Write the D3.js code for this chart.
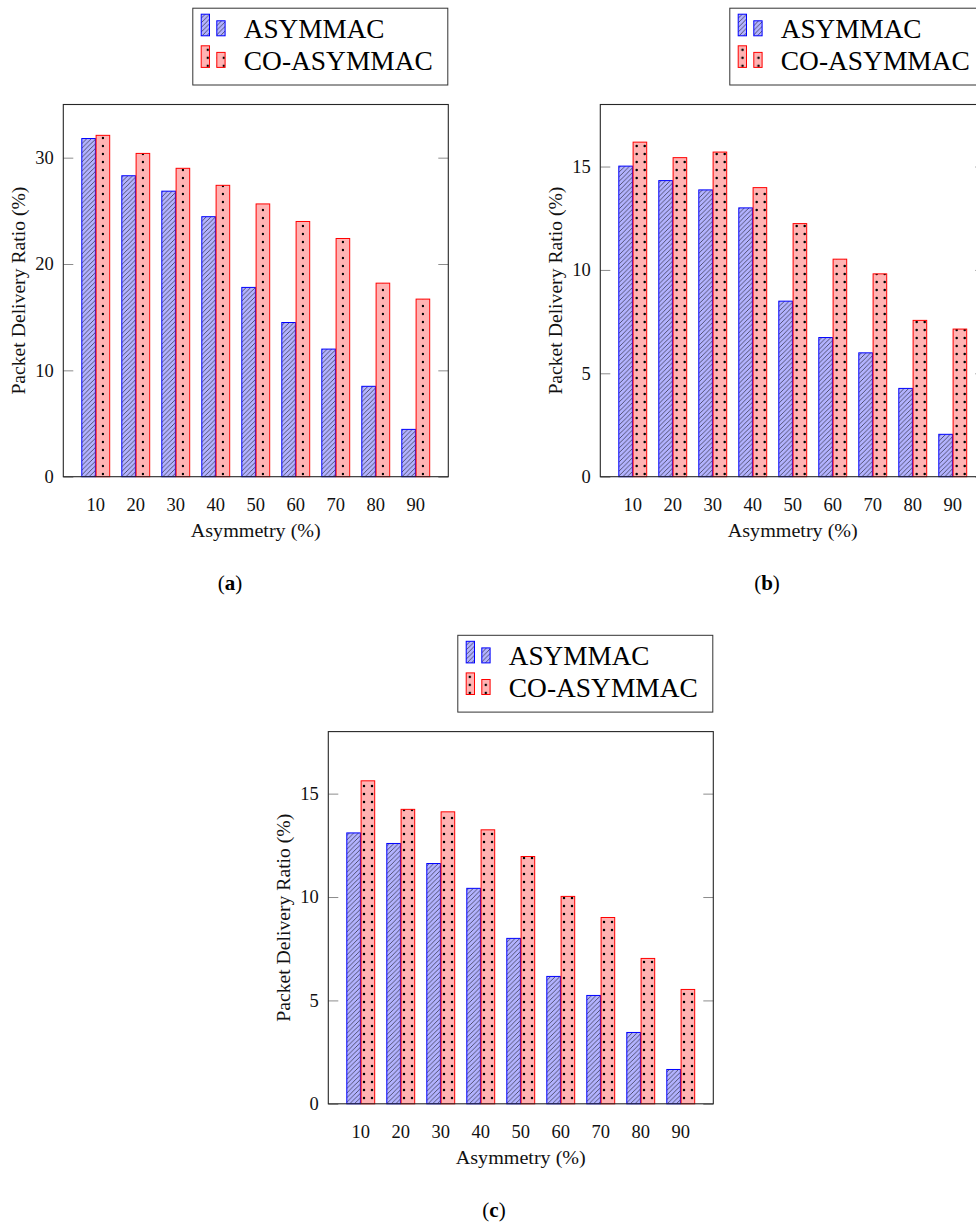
<!DOCTYPE html>
<html>
<head>
<meta charset="utf-8">
<script src="https://cdn.jsdelivr.net/npm/d3@7"></script>
<style>
  body { margin: 0; background: #fff; }
  svg { display: block; font-family: "Liberation Serif", "DejaVu Serif", serif; }
</style>
</head>
<body>
<div id="chart"></div>
<script>
// asymmetry levels (x categories)
var categories = ["10", "20", "30", "40", "50", "60", "70", "80", "90"];
var seriesNames = ["ASYMMAC", "CO-ASYMMAC"];

// panel (a)
var asymmacA = [31.8, 28.3, 26.85, 24.45, 17.8, 14.5, 12.0, 8.5, 4.45];
var coAsymmacA = [32.1, 30.4, 29.0, 27.4, 25.65, 24.0, 22.4, 18.2, 16.7];
var yTicksA = [0, 10, 20, 30];

// panel (b)
var asymmacB = [15.02, 14.32, 13.87, 13.0, 8.49, 6.73, 5.99, 4.27, 2.05];
var coAsymmacB = [16.18, 15.43, 15.7, 13.98, 12.24, 10.52, 9.81, 7.56, 7.14];
var yTicksB = [0, 5, 10, 15];

// panel (c)
var asymmacC = [13.1, 12.59, 11.62, 10.42, 8.0, 6.16, 5.24, 3.45, 1.66];
var coAsymmacC = [15.62, 14.24, 14.12, 13.25, 11.96, 10.03, 9.01, 7.03, 5.53];
var yTicksC = [0, 5, 10, 15];

var svg = d3.select('#chart').append('svg')
  .attr('width', 976).attr('height', 1225);

var defs = svg.append('defs');

function addPatterns(id, dx, dy) {
  var hatch = defs.append('pattern').attr('id', 'hatch-' + id)
    .attr('patternUnits', 'userSpaceOnUse').attr('width', 4.6).attr('height', 4.6);
  hatch.append('rect').attr('width', 4.6).attr('height', 4.6).attr('fill', '#b3b3ff');
  hatch.append('path').attr('d', 'M-1,5.6 L5.6,-1 M-1,1 L1,-1 M3.6,5.6 L5.6,3.6')
    .attr('stroke', '#000').attr('stroke-width', 0.55);

  var dots = defs.append('pattern').attr('id', 'dots-' + id)
    .attr('patternUnits', 'userSpaceOnUse').attr('width', 8).attr('height', 8);
  dots.append('rect').attr('width', 8).attr('height', 8).attr('fill', '#ffb3b3');
  dots.append('circle').attr('cx', dx).attr('cy', dy).attr('r', 1.25).attr('fill', '#000');
}

function BarPanel(opts) {
  this.id = opts.id;
  this.left = opts.left;
  this.top = opts.top;
  this.width = 385;
  this.height = 372.2;
  this.asym = opts.asym;
  this.co = opts.co;
  this.yMax = opts.yMax;
  this.yTicks = opts.yTicks;
  this.caption = opts.caption;
  addPatterns(this.id, opts.dotX, opts.dotY);
  this.g = svg.append('g');
  this.x = d3.scalePoint().domain(categories)
    .range([this.left, this.left + this.width]).padding(0.8125);
  this.y = d3.scaleLinear().domain([0, this.yMax])
    .range([this.top + this.height, this.top]);
}

BarPanel.prototype.drawBars = function() {
  var _this = this;
  var rows = categories.map(function(c, i) {
    return { cat: c, a: _this.asym[i], b: _this.co[i] };
  });
  var bw = 13.6;
  var groups = this.g.selectAll('g.grp').data(rows).enter().append('g').attr('class', 'grp');
  groups.append('rect')
    .attr('x', function(d) { return _this.x(d.cat) - bw - 0.4; })
    .attr('y', function(d) { return _this.y(d.a); })
    .attr('width', bw)
    .attr('height', function(d) { return _this.y(0) - _this.y(d.a); })
    .attr('fill', 'url(#hatch-' + this.id + ')')
    .attr('stroke', '#0000ff').attr('stroke-width', 1);
  groups.append('rect')
    .attr('x', function(d) { return _this.x(d.cat) + 0.3; })
    .attr('y', function(d) { return _this.y(d.b); })
    .attr('width', bw)
    .attr('height', function(d) { return _this.y(0) - _this.y(d.b); })
    .attr('fill', 'url(#dots-' + this.id + ')')
    .attr('stroke', '#ff0000').attr('stroke-width', 1);
};

BarPanel.prototype.drawAxes = function() {
  var _this = this;
  var x0 = this.left, x1 = this.left + this.width;
  var y0 = this.top + this.height, y1 = this.top;

  // inward ticks on both sides
  var leftAxis = d3.axisRight(this.y).tickValues(this.yTicks).tickSize(10).tickFormat('');
  var rightAxis = d3.axisLeft(this.y).tickValues(this.yTicks).tickSize(10).tickFormat('');
  [this.g.append('g').attr('transform', 'translate(' + x0 + ',0)').call(leftAxis),
   this.g.append('g').attr('transform', 'translate(' + x1 + ',0)').call(rightAxis)]
    .forEach(function(ax) {
      ax.select('.domain').remove();
      ax.selectAll('.tick line').attr('stroke', '#8c8c8c').attr('stroke-width', 1);
    });

  this.g.append('rect')
    .attr('x', x0).attr('y', y1).attr('width', this.width).attr('height', this.height)
    .attr('fill', 'none').attr('stroke', '#262626').attr('stroke-width', 1.1);

  this.g.selectAll('text.ytick').data(this.yTicks).enter().append('text')
    .attr('class', 'ytick')
    .attr('x', x0 - 9.5)
    .attr('y', function(d) { return _this.y(d) + 6.3; })
    .attr('text-anchor', 'end').attr('font-size', 18.5).attr('fill', '#111')
    .text(function(d) { return d; });

  this.g.selectAll('text.xtick').data(categories).enter().append('text')
    .attr('class', 'xtick')
    .attr('x', function(d) { return _this.x(d); })
    .attr('y', y0 + 34)
    .attr('text-anchor', 'middle').attr('font-size', 18.5).attr('fill', '#111')
    .text(function(d) { return d; });

  this.g.append('text')
    .attr('x', (x0 + x1) / 2).attr('y', y0 + 60)
    .attr('text-anchor', 'middle').attr('font-size', 19).attr('fill', '#111')
    .attr('textLength', 130).attr('lengthAdjust', 'spacingAndGlyphs')
    .text('Asymmetry (%)');

  this.g.append('text')
    .attr('transform', 'translate(' + (x0 - 38) + ',' + ((y0 + y1) / 2) + ') rotate(-90)')
    .attr('text-anchor', 'middle').attr('font-size', 19).attr('fill', '#111')
    .attr('textLength', 208).attr('lengthAdjust', 'spacingAndGlyphs')
    .text('Packet Delivery Ratio (%)');
};

BarPanel.prototype.drawLegend = function() {
  var right = this.left + this.width - 0.5;
  var lx = right - 255, ly = this.top - 96.3;
  var lg = this.g.append('g').attr('transform', 'translate(' + lx + ',' + ly + ')');
  lg.append('rect').attr('width', 255).attr('height', 76.8)
    .attr('fill', '#fff').attr('stroke', '#333').attr('stroke-width', 1);

  var fills = ['url(#hatch-' + this.id + ')', 'url(#dots-' + this.id + ')'];
  var strokes = ['#0000ff', '#ff0000'];
  var widths = [140.7, 189];
  var rowsG = lg.selectAll('g.row').data(seriesNames).enter().append('g')
    .attr('class', 'row')
    .attr('transform', function(d, i) { return 'translate(0,' + (i * 31.6) + ')'; });
  rowsG.append('rect').attr('x', 8.4).attr('y', 6).attr('width', 8.3).attr('height', 21.6)
    .attr('fill', function(d, i) { return fills[i]; })
    .attr('stroke', function(d, i) { return strokes[i]; }).attr('stroke-width', 1);
  rowsG.append('rect').attr('x', 24).attr('y', 12.6).attr('width', 8.3).attr('height', 15)
    .attr('fill', function(d, i) { return fills[i]; })
    .attr('stroke', function(d, i) { return strokes[i]; }).attr('stroke-width', 1);
  rowsG.append('text').attr('x', 51).attr('y', 30)
    .attr('font-size', 27).attr('fill', '#000')
    .attr('textLength', function(d, i) { return widths[i]; })
    .attr('lengthAdjust', 'spacingAndGlyphs')
    .text(function(d) { return d; });
};

BarPanel.prototype.drawCaption = function() {
  var t = this.g.append('text')
    .attr('x', this.caption.x).attr('y', this.caption.y)
    .attr('text-anchor', 'middle').attr('font-size', 21).attr('fill', '#000');
  t.append('tspan').text('(');
  t.append('tspan').attr('font-weight', 'bold').text(this.caption.letter);
  t.append('tspan').text(')');
};

BarPanel.prototype.draw = function() {
  this.drawBars();
  this.drawAxes();
  this.drawLegend();
  this.drawCaption();
};

new BarPanel({ id: 'a', left: 63.3, top: 104.5, asym: asymmacA, co: coAsymmacA,
  yMax: 35, yTicks: yTicksA, dotX: 7, dotY: 2,
  caption: { letter: 'a', x: 230, y: 589.5 } }).draw();

new BarPanel({ id: 'b', left: 600.3, top: 104.5, asym: asymmacB, co: coAsymmacB,
  yMax: 18, yTicks: yTicksB, dotX: 4.7, dotY: 2,
  caption: { letter: 'b', x: 767, y: 589.5 } }).draw();

new BarPanel({ id: 'c', left: 328.3, top: 731.6, asym: asymmacC, co: coAsymmacC,
  yMax: 18, yTicks: yTicksC, dotX: 4, dotY: 2,
  caption: { letter: 'c', x: 494, y: 1217.3 } }).draw();
</script>
</body>
</html>
